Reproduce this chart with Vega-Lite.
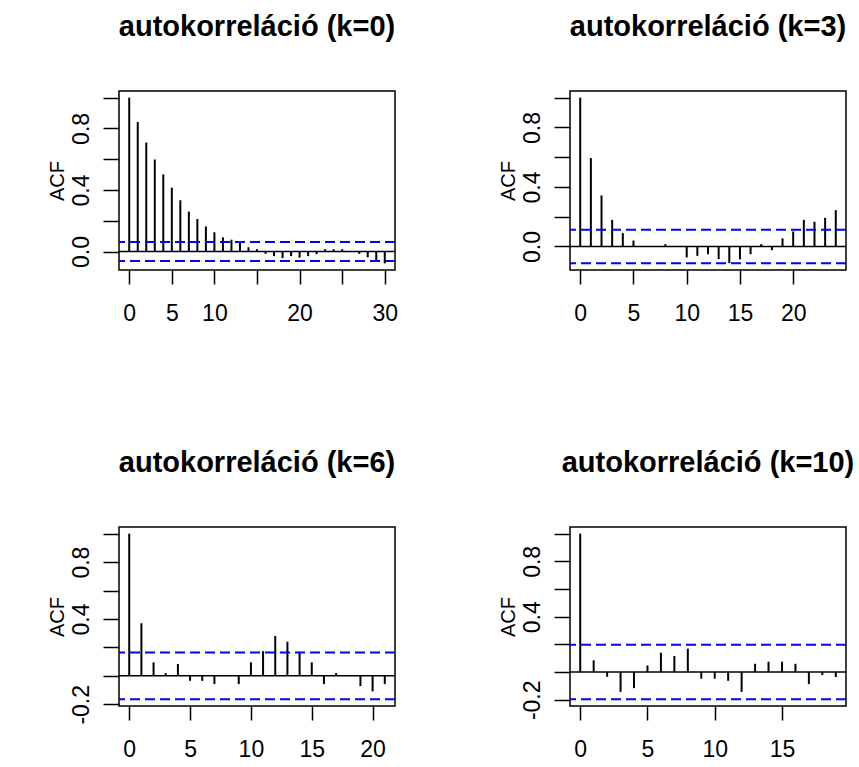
{
  "$schema": "https://vega.github.io/schema/vega-lite/v6.json",
  "background": "white",
  "padding": {"left": 46, "top": 12, "right": 5, "bottom": 5},
  "columns": 2,
  "bounds": "flush",
  "spacing": {"row": 257, "column": 175},
  "concat": [
    {
      "title": "autokorreláció (k=0)",
      "width": 276, "height": 179,
      "layer": [
        {
          "data": {"values": [
            {"lag":0,"acf":1.0},{"lag":1,"acf":0.841},{"lag":2,"acf":0.708},{"lag":3,"acf":0.598},{"lag":4,"acf":0.501},
            {"lag":5,"acf":0.415},{"lag":6,"acf":0.333},{"lag":7,"acf":0.26},{"lag":8,"acf":0.211},{"lag":9,"acf":0.163},
            {"lag":10,"acf":0.125},{"lag":11,"acf":0.092},{"lag":12,"acf":0.077},{"lag":13,"acf":0.06},{"lag":14,"acf":0.028},
            {"lag":15,"acf":0.015},{"lag":16,"acf":-0.015},{"lag":17,"acf":-0.03},{"lag":18,"acf":-0.043},{"lag":19,"acf":-0.03},
            {"lag":20,"acf":-0.04},{"lag":21,"acf":-0.03},{"lag":22,"acf":-0.017},{"lag":23,"acf":0.015},{"lag":24,"acf":0.015},
            {"lag":25,"acf":0.015},{"lag":26,"acf":0.003},{"lag":27,"acf":-0.015},{"lag":28,"acf":-0.037},{"lag":29,"acf":-0.058},
            {"lag":30,"acf":-0.077}
          ]},
          "mark": {"type": "rule", "color": "black", "strokeWidth": 2},
          "encoding": {
            "x": {"field": "lag", "type": "quantitative", "scale": {"domain": [-1.2, 31.2], "nice": false, "zero": false},
                  "axis": {"title": null, "values": [0,5,10,15,20,25,30], "labelOverlap": false, "labelExpr": "datum.value == 15 || datum.value == 25 ? '' : datum.label"}},
            "y": {"field": "acf", "type": "quantitative", "scale": {"domain": [-0.12, 1.043], "nice": false, "zero": false},
                  "axis": {"title": "ACF", "values": [0,0.2,0.4,0.6,0.8,1.0], "labelOverlap": false, "labelExpr": "abs(datum.value)<0.01 ? '0.0' : abs(datum.value-0.4)<0.01 ? '0.4' : abs(datum.value-0.8)<0.01 ? '0.8' : ''"}},
            "y2": {"datum": 0}
          }
        },
        {
          "data": {"values": [{}]},
          "mark": {"type": "rule", "color": "black", "strokeWidth": 1.5},
          "encoding": {"y": {"datum": 0, "type": "quantitative",
                  "axis": {"title": "ACF", "values": [0,0.2,0.4,0.6,0.8,1.0], "labelOverlap": false, "labelExpr": "abs(datum.value)<0.01 ? '0.0' : abs(datum.value-0.4)<0.01 ? '0.4' : abs(datum.value-0.8)<0.01 ? '0.8' : ''"}}}
        },
        {
          "data": {"values": [{"bound": 0.062}, {"bound": -0.062}]},
          "mark": {"type": "rule", "color": "#0000FF", "strokeWidth": 2, "strokeDash": [10, 5]},
          "encoding": {"y": {"field": "bound", "type": "quantitative",
                  "axis": {"title": "ACF", "values": [0,0.2,0.4,0.6,0.8,1.0], "labelOverlap": false, "labelExpr": "abs(datum.value)<0.01 ? '0.0' : abs(datum.value-0.4)<0.01 ? '0.4' : abs(datum.value-0.8)<0.01 ? '0.8' : ''"}}}
        }
      ]
    },
    {
      "title": "autokorreláció (k=3)",
      "width": 276, "height": 179,
      "layer": [
        {
          "data": {"values": [
            {"lag":0,"acf":1.0},{"lag":1,"acf":0.594},{"lag":2,"acf":0.343},{"lag":3,"acf":0.179},{"lag":4,"acf":0.09},
            {"lag":5,"acf":0.04},{"lag":6,"acf":0.003},{"lag":7,"acf":0.0},{"lag":8,"acf":0.016},{"lag":9,"acf":-0.002},
            {"lag":10,"acf":-0.074},{"lag":11,"acf":-0.063},{"lag":12,"acf":-0.052},{"lag":13,"acf":-0.085},{"lag":14,"acf":-0.112},
            {"lag":15,"acf":-0.087},{"lag":16,"acf":-0.052},{"lag":17,"acf":0.016},{"lag":18,"acf":-0.025},{"lag":19,"acf":0.054},
            {"lag":20,"acf":0.101},{"lag":21,"acf":0.179},{"lag":22,"acf":0.166},{"lag":23,"acf":0.193},{"lag":24,"acf":0.244}
          ]},
          "mark": {"type": "rule", "color": "black", "strokeWidth": 2},
          "encoding": {
            "x": {"field": "lag", "type": "quantitative", "scale": {"domain": [-0.96, 24.96], "nice": false, "zero": false},
                  "axis": {"title": null, "values": [0,5,10,15,20], "labelOverlap": false}},
            "y": {"field": "acf", "type": "quantitative", "scale": {"domain": [-0.158, 1.045], "nice": false, "zero": false},
                  "axis": {"title": "ACF", "values": [0,0.2,0.4,0.6,0.8,1.0], "labelOverlap": false, "labelExpr": "abs(datum.value)<0.01 ? '0.0' : abs(datum.value-0.4)<0.01 ? '0.4' : abs(datum.value-0.8)<0.01 ? '0.8' : ''"}},
            "y2": {"datum": 0}
          }
        },
        {
          "data": {"values": [{}]},
          "mark": {"type": "rule", "color": "black", "strokeWidth": 1.5},
          "encoding": {"y": {"datum": 0, "type": "quantitative",
                  "axis": {"title": "ACF", "values": [0,0.2,0.4,0.6,0.8,1.0], "labelOverlap": false, "labelExpr": "abs(datum.value)<0.01 ? '0.0' : abs(datum.value-0.4)<0.01 ? '0.4' : abs(datum.value-0.8)<0.01 ? '0.8' : ''"}}}
        },
        {
          "data": {"values": [{"bound": 0.113}, {"bound": -0.113}]},
          "mark": {"type": "rule", "color": "#0000FF", "strokeWidth": 2, "strokeDash": [10, 5]},
          "encoding": {"y": {"field": "bound", "type": "quantitative",
                  "axis": {"title": "ACF", "values": [0,0.2,0.4,0.6,0.8,1.0], "labelOverlap": false, "labelExpr": "abs(datum.value)<0.01 ? '0.0' : abs(datum.value-0.4)<0.01 ? '0.4' : abs(datum.value-0.8)<0.01 ? '0.8' : ''"}}}
        }
      ]
    },
    {
      "title": "autokorreláció (k=6)",
      "width": 276, "height": 179,
      "layer": [
        {
          "data": {"values": [
            {"lag":0,"acf":1.0},{"lag":1,"acf":0.37},{"lag":2,"acf":0.095},{"lag":3,"acf":0.019},{"lag":4,"acf":0.084},
            {"lag":5,"acf":-0.035},{"lag":6,"acf":-0.035},{"lag":7,"acf":-0.058},{"lag":8,"acf":0.0},{"lag":9,"acf":-0.058},
            {"lag":10,"acf":0.095},{"lag":11,"acf":0.174},{"lag":12,"acf":0.281},{"lag":13,"acf":0.24},{"lag":14,"acf":0.17},
            {"lag":15,"acf":0.095},{"lag":16,"acf":-0.058},{"lag":17,"acf":0.019},{"lag":18,"acf":0.0},{"lag":19,"acf":-0.072},
            {"lag":20,"acf":-0.109},{"lag":21,"acf":-0.058}
          ]},
          "mark": {"type": "rule", "color": "black", "strokeWidth": 2},
          "encoding": {
            "x": {"field": "lag", "type": "quantitative", "scale": {"domain": [-0.84, 21.84], "nice": false, "zero": false},
                  "axis": {"title": null, "values": [0,5,10,15,20], "labelOverlap": false}},
            "y": {"field": "acf", "type": "quantitative", "scale": {"domain": [-0.212, 1.047], "nice": false, "zero": false},
                  "axis": {"title": "ACF", "values": [-0.2,0,0.2,0.4,0.6,0.8,1.0], "labelOverlap": false, "labelExpr": "datum.value < -0.1 ? '-0.2' : abs(datum.value-0.4)<0.01 ? '0.4' : abs(datum.value-0.8)<0.01 ? '0.8' : ''"}},
            "y2": {"datum": 0}
          }
        },
        {
          "data": {"values": [{}]},
          "mark": {"type": "rule", "color": "black", "strokeWidth": 1.5},
          "encoding": {"y": {"datum": 0, "type": "quantitative",
                  "axis": {"title": "ACF", "values": [-0.2,0,0.2,0.4,0.6,0.8,1.0], "labelOverlap": false, "labelExpr": "datum.value < -0.1 ? '-0.2' : abs(datum.value-0.4)<0.01 ? '0.4' : abs(datum.value-0.8)<0.01 ? '0.8' : ''"}}}
        },
        {
          "data": {"values": [{"bound": 0.165}, {"bound": -0.165}]},
          "mark": {"type": "rule", "color": "#0000FF", "strokeWidth": 2, "strokeDash": [10, 5]},
          "encoding": {"y": {"field": "bound", "type": "quantitative",
                  "axis": {"title": "ACF", "values": [-0.2,0,0.2,0.4,0.6,0.8,1.0], "labelOverlap": false, "labelExpr": "datum.value < -0.1 ? '-0.2' : abs(datum.value-0.4)<0.01 ? '0.4' : abs(datum.value-0.8)<0.01 ? '0.8' : ''"}}}
        }
      ]
    },
    {
      "title": "autokorreláció (k=10)",
      "width": 276, "height": 179,
      "layer": [
        {
          "data": {"values": [
            {"lag":0,"acf":1.0},{"lag":1,"acf":0.085},{"lag":2,"acf":-0.034},{"lag":3,"acf":-0.143},{"lag":4,"acf":-0.116},
            {"lag":5,"acf":0.048},{"lag":6,"acf":0.14},{"lag":7,"acf":0.116},{"lag":8,"acf":0.169},{"lag":9,"acf":-0.048},
            {"lag":10,"acf":-0.048},{"lag":11,"acf":-0.063},{"lag":12,"acf":-0.143},{"lag":13,"acf":0.06},{"lag":14,"acf":0.075},
            {"lag":15,"acf":0.075},{"lag":16,"acf":0.06},{"lag":17,"acf":-0.087},{"lag":18,"acf":-0.022},{"lag":19,"acf":-0.036}
          ]},
          "mark": {"type": "rule", "color": "black", "strokeWidth": 2},
          "encoding": {
            "x": {"field": "lag", "type": "quantitative", "scale": {"domain": [-0.76, 19.76], "nice": false, "zero": false},
                  "axis": {"title": null, "values": [0,5,10,15], "labelOverlap": false}},
            "y": {"field": "acf", "type": "quantitative", "scale": {"domain": [-0.245, 1.048], "nice": false, "zero": false},
                  "axis": {"title": "ACF", "values": [-0.2,0,0.2,0.4,0.6,0.8,1.0], "labelOverlap": false, "labelExpr": "datum.value < -0.1 ? '-0.2' : abs(datum.value-0.4)<0.01 ? '0.4' : abs(datum.value-0.8)<0.01 ? '0.8' : ''"}},
            "y2": {"datum": 0}
          }
        },
        {
          "data": {"values": [{}]},
          "mark": {"type": "rule", "color": "black", "strokeWidth": 1.5},
          "encoding": {"y": {"datum": 0, "type": "quantitative",
                  "axis": {"title": "ACF", "values": [-0.2,0,0.2,0.4,0.6,0.8,1.0], "labelOverlap": false, "labelExpr": "datum.value < -0.1 ? '-0.2' : abs(datum.value-0.4)<0.01 ? '0.4' : abs(datum.value-0.8)<0.01 ? '0.8' : ''"}}}
        },
        {
          "data": {"values": [{"bound": 0.197}, {"bound": -0.197}]},
          "mark": {"type": "rule", "color": "#0000FF", "strokeWidth": 2, "strokeDash": [10, 5]},
          "encoding": {"y": {"field": "bound", "type": "quantitative",
                  "axis": {"title": "ACF", "values": [-0.2,0,0.2,0.4,0.6,0.8,1.0], "labelOverlap": false, "labelExpr": "datum.value < -0.1 ? '-0.2' : abs(datum.value-0.4)<0.01 ? '0.4' : abs(datum.value-0.8)<0.01 ? '0.8' : ''"}}}
        }
      ]
    }
  ],
  "config": {
    "view": {"stroke": "black", "strokeWidth": 1.5},
    "axis": {"grid": false, "domain": false, "tickColor": "black", "tickWidth": 1.5, "labelColor": "black",
             "labelFont": "Liberation Sans", "titleFont": "Liberation Sans", "titleFontWeight": "normal", "titleColor": "black",
             "labelOverlap": false, "labelFlush": false},
    "axisX": {"tickSize": 14, "labelFontSize": 23, "labelPadding": 18},
    "axisY": {"tickSize": 16, "labelFontSize": 23, "labelAngle": -90, "labelPadding": 10, "titleFontSize": 20, "titlePadding": 3},
    "title": {"font": "Liberation Sans", "fontSize": 29, "fontWeight": "bold", "color": "black", "anchor": "middle", "offset": 49}
  }
}
